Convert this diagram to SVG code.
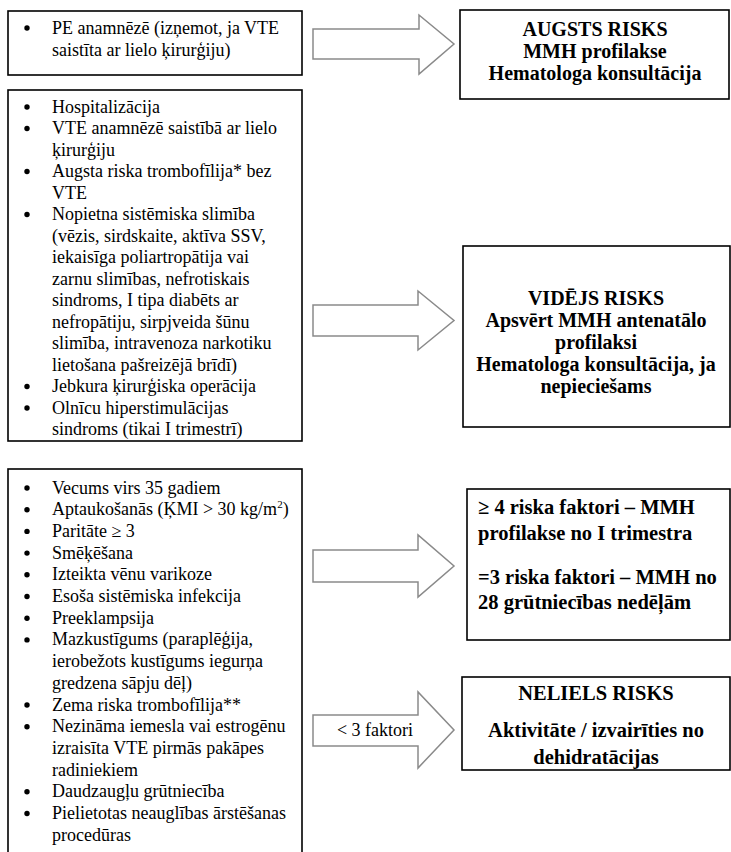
<svg xmlns="http://www.w3.org/2000/svg" width="731" height="852" viewBox="0 0 731 852">
<style>
.box{fill:#fff;stroke:#000;stroke-width:1.6}
.arr{fill:#fff;stroke:#8a8a8a;stroke-width:1.5}
.b{font-weight:bold;font-size:20px}
.b2{font-weight:bold;font-size:20.5px}
.c{text-anchor:middle}
.dot{fill:#000}
</style>
<rect width="731" height="852" fill="#fff"/>
<g font-family="Liberation Serif, Tinos, DejaVu Serif, serif" font-size="18" fill="#000">
<g id="connectors">
<polygon class="arr" points="313,29 419,29 419,15 454,44 419,74 419,59 313,59"/>
<polygon class="arr" points="313,305 418,305 418,291 454,320.5 418,350 418,336 313,336"/>
<polygon class="arr" points="313,550 418,550 418,535 454,566 418,597 418,582 313,582"/>
<polygon class="arr" points="313,715 418,715 418,692 454,730 418,768 418,746 313,746"/>
<text x="375" y="736" text-anchor="middle">&lt; 3 faktori</text>
</g>
<g id="box1">
<rect class="box" x="8" y="11" width="294" height="64"/>
<circle class="dot" cx="27" cy="28" r="2.7"/>
<text x="52" y="34">PE anamnēzē (izņemot, ja VTE</text>
<text x="52" y="56">saistīta ar lielo ķirurģiju)</text>
</g>
<g id="box2">
<rect class="box" x="8" y="90" width="294" height="351"/>
<circle class="dot" cx="27" cy="107" r="2.7"/>
<circle class="dot" cx="27" cy="128.5" r="2.7"/>
<circle class="dot" cx="27" cy="171.5" r="2.7"/>
<circle class="dot" cx="27" cy="214.5" r="2.7"/>
<circle class="dot" cx="27" cy="386.5" r="2.7"/>
<circle class="dot" cx="27" cy="408" r="2.7"/>
<text x="52" y="112.5">Hospitalizācija</text>
<text x="52" y="134">VTE anamnēzē saistībā ar lielo</text>
<text x="52" y="155.5">ķirurģiju</text>
<text x="52" y="177">Augsta riska trombofīlija* bez</text>
<text x="52" y="198.5">VTE</text>
<text x="52" y="220">Nopietna sistēmiska slimība</text>
<text x="52" y="241.5">(vēzis, sirdskaite, aktīva SSV,</text>
<text x="52" y="263">iekaisīga poliartropātija vai</text>
<text x="52" y="284.5">zarnu slimības, nefrotiskais</text>
<text x="52" y="306">sindroms, I tipa diabēts ar</text>
<text x="52" y="327.5">nefropātiju, sirpjveida šūnu</text>
<text x="52" y="349">slimība, intravenoza narkotiku</text>
<text x="52" y="370.5">lietošana pašreizējā brīdī)</text>
<text x="52" y="392">Jebkura ķirurģiska operācija</text>
<text x="52" y="413.5">Olnīcu hiperstimulācijas</text>
<text x="52" y="435">sindroms (tikai I trimestrī)</text>
</g>
<g id="box3">
<rect class="box" x="8" y="469" width="294" height="390"/>
<circle class="dot" cx="27" cy="488" r="2.7"/>
<circle class="dot" cx="27" cy="509.7" r="2.7"/>
<circle class="dot" cx="27" cy="531.4" r="2.7"/>
<circle class="dot" cx="27" cy="553.1" r="2.7"/>
<circle class="dot" cx="27" cy="574.8" r="2.7"/>
<circle class="dot" cx="27" cy="596.5" r="2.7"/>
<circle class="dot" cx="27" cy="618.2" r="2.7"/>
<circle class="dot" cx="27" cy="639.9" r="2.7"/>
<circle class="dot" cx="27" cy="705" r="2.7"/>
<circle class="dot" cx="27" cy="726.7" r="2.7"/>
<circle class="dot" cx="27" cy="791.8" r="2.7"/>
<circle class="dot" cx="27" cy="813.5" r="2.7"/>
<text x="52" y="493.5">Vecums virs 35 gadiem</text>
<text x="52" y="515.2">Aptaukošanās (ĶMI &gt; 30 kg/m<tspan font-size="11" dy="-7">2</tspan><tspan dy="7">)</tspan></text>
<text x="52" y="536.9">Paritāte ≥ 3</text>
<text x="52" y="558.6">Smēķēšana</text>
<text x="52" y="580.3">Izteikta vēnu varikoze</text>
<text x="52" y="602">Esoša sistēmiska  infekcija</text>
<text x="52" y="623.7">Preeklampsija</text>
<text x="52" y="645.4">Mazkustīgums (paraplēģija,</text>
<text x="52" y="667.1">ierobežots kustīgums iegurņa</text>
<text x="52" y="688.8">gredzena sāpju dēļ)</text>
<text x="52" y="710.5">Zema riska trombofīlija**</text>
<text x="52" y="732.2">Nezināma iemesla vai estrogēnu</text>
<text x="52" y="753.9">izraisīta VTE pirmās pakāpes</text>
<text x="52" y="775.6">radiniekiem</text>
<text x="52" y="797.3">Daudzaugļu grūtniecība</text>
<text x="52" y="819">Pielietotas neauglības ārstēšanas</text>
<text x="52" y="840.7">procedūras</text>
</g>
<g id="high">
<rect class="box" x="460" y="10" width="269" height="89"/>
<text class="b c" x="595" y="36">AUGSTS RISKS</text>
<text class="b c" x="595" y="58">MMH profilakse</text>
<text class="b c" x="595" y="80">Hematologa konsultācija</text>
</g>
<g id="medium">
<rect class="box" x="463" y="246" width="267" height="181"/>
<text class="b c" x="596" y="305">VIDĒJS RISKS</text>
<text class="b c" x="596" y="327">Apsvērt MMH antenatālo</text>
<text class="b c" x="596" y="349">profilaksi</text>
<text class="b c" x="596" y="371">Hematologa konsultācija, ja</text>
<text class="b c" x="596" y="393">nepieciešams</text>
</g>
<g id="factors">
<rect class="box" x="467" y="489" width="263" height="151"/>
<text class="b2" x="478" y="514">≥ 4 riska faktori – MMH</text>
<text class="b2" x="478" y="540">profilakse no I trimestra</text>
<text class="b2" x="478" y="584">=3 riska faktori – MMH no</text>
<text class="b2" x="478" y="609">28 grūtniecības nedēļām</text>
</g>
<g id="low">
<rect class="box" x="462" y="677" width="268" height="93"/>
<text class="b2 c" x="596" y="700">NELIELS RISKS</text>
<text class="b2 c" x="596" y="737">Aktivitāte / izvairīties no</text>
<text class="b2 c" x="596" y="764">dehidratācijas</text>
</g>
</g>
</svg>
